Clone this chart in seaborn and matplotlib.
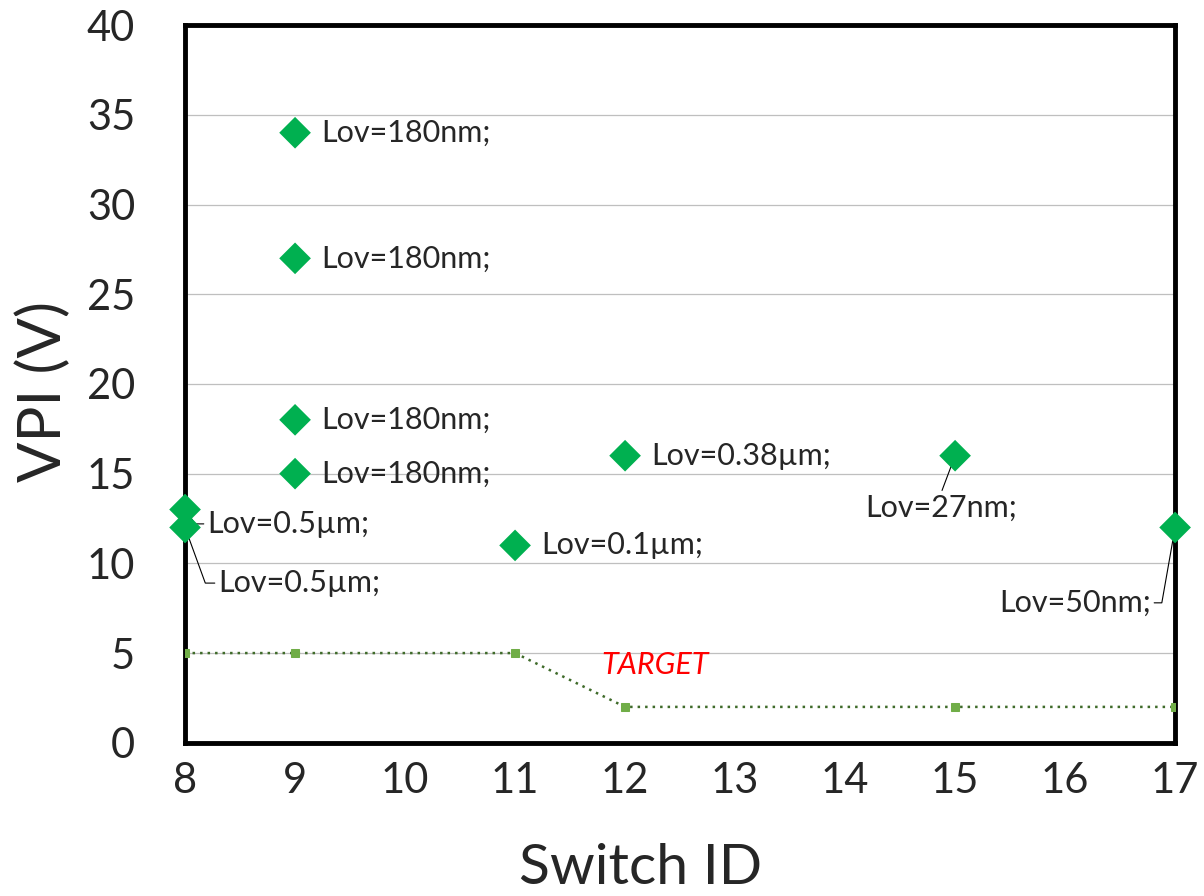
import pandas as pd
import matplotlib.pyplot as plt
import seaborn as sns

# dados
switch_id = [8, 8, 9, 9, 9, 9, 11, 12, 15, 17]
vpi = [13, 12, 34, 27, 18, 15, 11, 16, 16, 12]
rotulos = ['Lov=0.5µm;', 'Lov=0.5µm;', 'Lov=180nm;', 'Lov=180nm;', 'Lov=180nm;',
           'Lov=180nm;', 'Lov=0.1µm;', 'Lov=0.38µm;', 'Lov=27nm;', 'Lov=50nm;']

target_id = [8, 9, 11, 12, 15, 17]
target_vpi = [5, 5, 5, 2, 2, 2]

df = pd.DataFrame({'switch': switch_id, 'vpi': vpi, 'rotulo': rotulos})
df_target = pd.DataFrame({'switch': target_id, 'vpi': target_vpi})

sns.set_style('white')
plt.rcParams['font.family'] = ['Lato', 'DejaVu Sans']

fig = plt.figure(figsize=(12.04, 8.96), dpi=100)
ax = fig.add_axes([0.1537, 0.171, 0.8223, 0.801])

# linha alvo
sns.lineplot(data=df_target, x='switch', y='vpi', ax=ax, color='#3f6b2a',
             linestyle=(0, (1, 2)), linewidth=1.8, marker='s', markersize=6,
             markerfacecolor='#70AD47', markeredgecolor='#70AD47', zorder=3)

# pontos medidos
sns.scatterplot(data=df, x='switch', y='vpi', ax=ax, marker='D', s=260,
                color='#00B050', edgecolor='none', zorder=4, clip_on=False)

fs = 22
# rótulos simples, à direita do ponto
linha = dict(arrowstyle='-', color='black', lw=0.8, shrinkA=0, shrinkB=0)
for i in [2, 3, 4, 5, 6, 7]:
    ax.annotate(df['rotulo'][i], (df['switch'][i], df['vpi'][i]),
                xytext=(19, 0), textcoords='offset points', va='center',
                ha='left', fontsize=fs)

# rótulos com linha de chamada
ax.annotate(df['rotulo'][0], (8, 13), xytext=(8.2, 12.2), textcoords='data',
            va='center', ha='left', fontsize=fs,
            arrowprops=dict(linha, connectionstyle='angle,angleA=0,angleB=-55,rad=0'))
ax.annotate(df['rotulo'][1], (8, 12), xytext=(8.3, 8.9), textcoords='data',
            va='center', ha='left', fontsize=fs,
            arrowprops=dict(linha, connectionstyle='angle,angleA=0,angleB=-70,rad=0'))
ax.annotate(df['rotulo'][8], (15, 16), xytext=(14.87, 13.1), textcoords='data',
            va='center', ha='center', fontsize=fs,
            arrowprops=dict(linha, relpos=(0.5, 1.0)))
ax.annotate(df['rotulo'][9], (17, 12), xytext=(16.78, 7.8), textcoords='data',
            va='center', ha='right', fontsize=fs,
            arrowprops=dict(linha, connectionstyle='angle,angleA=0,angleB=-100,rad=0'))

ax.text(12.27, 4.35, 'TARGET', color='red', style='italic', fontsize=fs,
        ha='center', va='center')

ax.set_xlim(8, 17)
ax.set_ylim(0, 40)
ax.set_xticks(range(8, 18))
ax.set_yticks(range(0, 41, 5))
ax.tick_params(axis='both', labelsize=30, length=0)
ax.tick_params(axis='x', pad=14)
ax.tick_params(axis='y', pad=36)
ax.set_xlabel('Switch ID', fontsize=41)
ax.xaxis.set_label_coords(0.46, -0.14)
ax.set_ylabel('VPI (V)', fontsize=43)
ax.yaxis.set_label_coords(-0.115, 0.49)

ax.yaxis.grid(True, color='#bfbfbf', linewidth=0.9)
ax.xaxis.grid(False)
for s in ax.spines.values():
    s.set_visible(True)
    s.set_color('black')
    s.set_linewidth(3.5)

fig.savefig('out.png', dpi=100)
